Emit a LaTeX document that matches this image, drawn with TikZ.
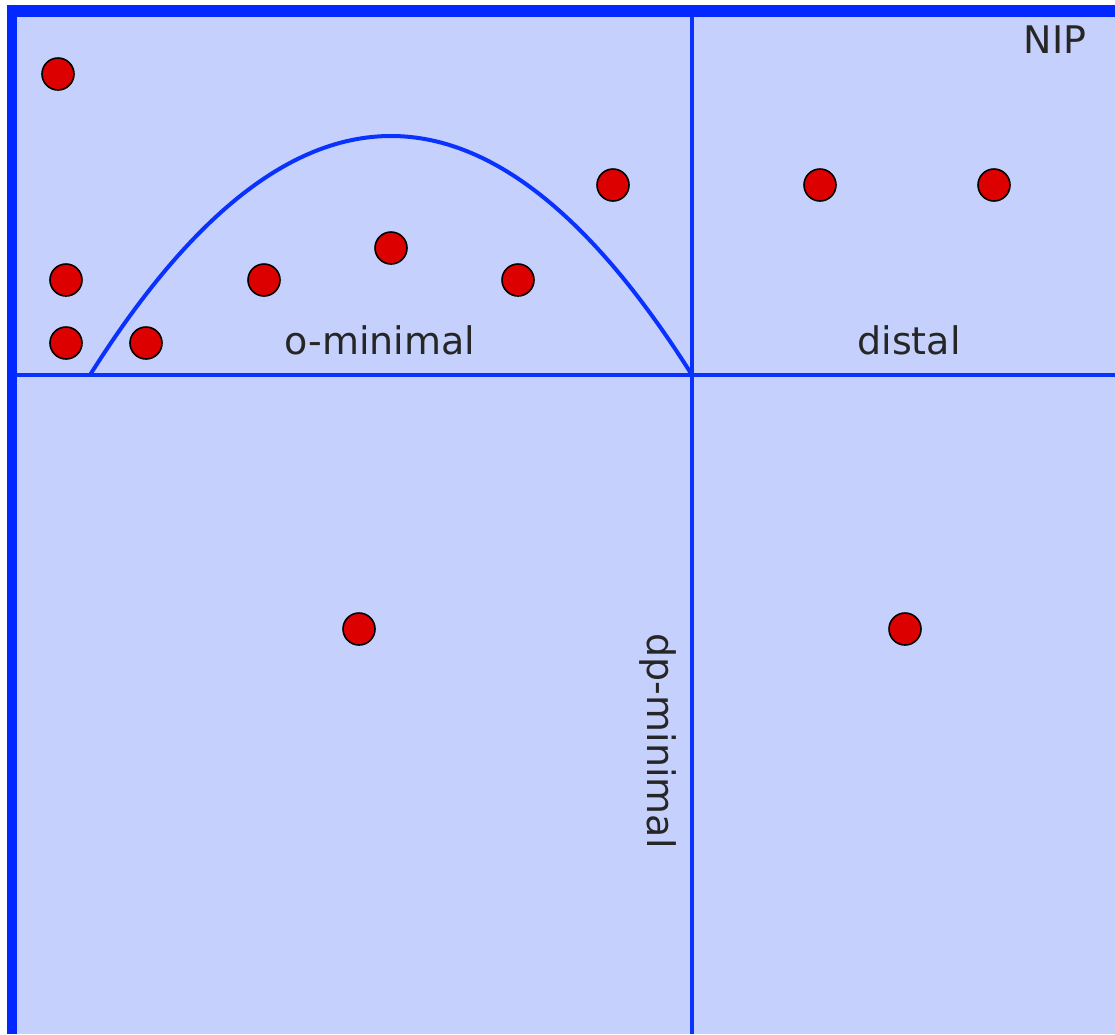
\documentclass[tikz,border=0pt]{standalone}
\usepackage{fontspec}
\setmainfont{DejaVu Sans}
\definecolor{bgfill}{HTML}{C6D0FC}
\definecolor{edgeblue}{HTML}{0028FF}
\definecolor{lineblue}{HTML}{0A32FF}
\definecolor{dotred}{HTML}{DD0000}
\begin{document}
\begin{tikzpicture}[x=1pt,y=-1pt,
  dot/.style={circle,fill=dotred,draw=black,line width=1.6pt,minimum size=32pt,inner sep=0pt},
  divider/.style={draw=lineblue,line width=4pt},
  lbl/.style={font=\fontsize{38}{46}\selectfont,text=black!85,inner sep=0pt}]
\useasboundingbox (0,0) rectangle (1115,1034);
\fill[white] (0,0) rectangle (1115,1034);
\fill[bgfill] (7,5) rectangle (1115,1034);
% borders
\fill[edgeblue] (7,5) rectangle (17,1034);
\fill[edgeblue] (7,5) rectangle (1115,17);
% dividers
\coordinate (hl) at (17,375);
\coordinate (hr) at (1115,375);
\coordinate (vt) at (692,17);
\coordinate (vb) at (692,1034);
\coordinate (cross) at (692,375);
\coordinate (pl) at (90,375);
\draw[divider] (hl) -- (hr);
\draw[divider] (vt) -- (vb);
\draw[divider] (pl) .. controls (290.67,56.33) and (491.33,56.33) .. (cross);
% dots
\node[dot] (d1) at (58,74) {};
\node[dot] (d2) at (66,280) {};
\node[dot] (d3) at (66,343) {};
\node[dot] (d4) at (146,343) {};
\node[dot] (d5) at (264,280) {};
\node[dot] (d6) at (391,248) {};
\node[dot] (d7) at (518,280) {};
\node[dot] (d8) at (613,185) {};
\node[dot] (d9) at (820,185) {};
\node[dot] (d10) at (994,185) {};
\node[dot] (d11) at (359,629) {};
\node[dot] (d12) at (905,629) {};
% labels
\node[lbl] (omin) at (380,340) {o-minimal};
\node[lbl] (dist) at (909,340) {distal};
\node[lbl] (nip) at (1055,40) {NIP};
\node[lbl,rotate=-90] (dpmin) at (658,741) {dp-minimal};
\end{tikzpicture}
\end{document}
